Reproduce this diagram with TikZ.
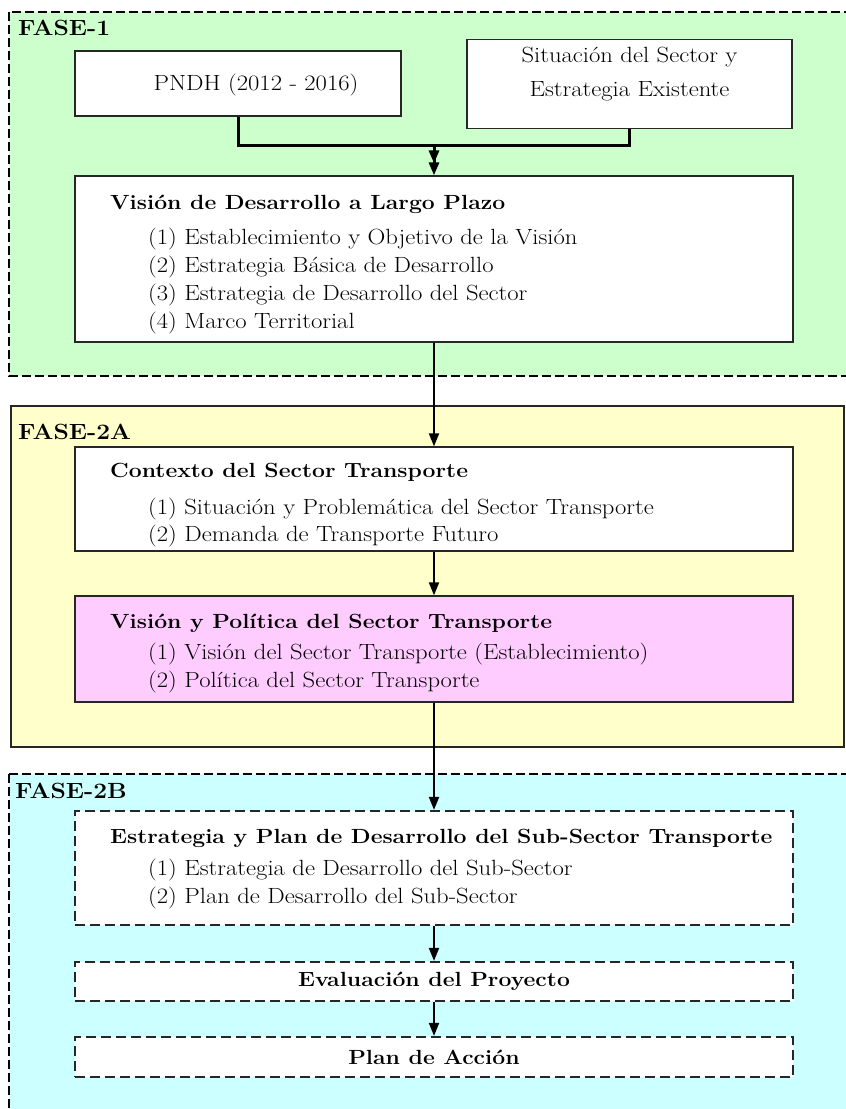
\documentclass[tikz,border=0pt]{standalone}
\usepackage{fontspec}
\setmainfont{Latin Modern Roman}[FakeStretch=1.12]
\usetikzlibrary{arrows.meta}
\definecolor{phgreen}{RGB}{204,255,204}
\definecolor{phyellow}{RGB}{255,255,204}
\definecolor{phcyan}{RGB}{204,255,255}
\definecolor{boxpink}{RGB}{255,204,255}
\begin{document}
\begin{tikzpicture}[x=1pt,y=-1pt,
  phasedash/.style={line width=1.8pt, dash pattern=on 9pt off 4pt},
  box/.style={draw=black!85, line width=1.3pt, fill=white, inner sep=0pt},
  dbox/.style={draw=black!85, line width=2.2pt, dash pattern=on 10pt off 5pt, fill=white, inner sep=0pt},
  ttl/.style={font=\fontsize{20.5}{24}\selectfont\bfseries, anchor=west, inner sep=0pt},
  itm/.style={font=\fontsize{22}{26}\selectfont, anchor=west, inner sep=0pt},
  phaselabel/.style={font=\fontsize{22}{26}\selectfont\bfseries, anchor=west, inner sep=0pt},
  conn/.style={line width=2pt, draw=black},
  thickconn/.style={line width=3pt, draw=black},
  arrtip/.style={-{Triangle[length=13pt,width=10pt]}},
]
\useasboundingbox (0,0) rectangle (846,1109);
\fill[white] (0,0) rectangle (846,1109);

% phases
\path[fill=phgreen, draw=black, phasedash] (9,12) rectangle (860,376);
\path[fill=phyellow, draw=black!85, line width=2.5pt] (11,406) rectangle (844,747);
\path[fill=phcyan, draw=black, phasedash] (9,774) rectangle (860,1130);

\node[phaselabel] (f1) at (18,28) {FASE-1};
\node[phaselabel] (f2a) at (18,432) {FASE-2A};
\node[phaselabel] (f2b) at (15,791) {FASE-2B};

% FASE-1
\node[box, minimum width=326pt, minimum height=65pt] (pndh) at (238,83.5) {};
\node[itm, anchor=center] (pndht) at (256,85) {PNDH (2012 - 2016)};
\node[box, minimum width=325pt, minimum height=89pt] (sit) at (629.5,84) {};
\node[itm, anchor=center, align=center, font=\fontsize{22}{34}\selectfont] (sitt) at (629.5,74) {Situación del Sector y\\Estrategia Existente};
\node[box, minimum width=718pt, minimum height=166pt] (vis) at (434,259) {};
\node[ttl] (vist) at (110,204) {Visión de Desarrollo a Largo Plazo};
\node[itm] (vis1) at (148,239) {(1) Establecimiento y Objetivo de la Visión};
\node[itm] (vis2) at (148,267) {(2) Estrategia Básica de Desarrollo};
\node[itm] (vis3) at (148,295) {(3) Estrategia de Desarrollo del Sector};
\node[itm] (vis4) at (148,323) {(4) Marco Territorial};

% FASE-2A
\node[box, minimum width=718pt, minimum height=104pt] (ctx) at (434,499) {};
\node[ttl] (ctxt) at (110,472) {Contexto del Sector Transporte};
\node[itm] (ctx1) at (148,509) {(1) Situación y Problemática del Sector Transporte};
\node[itm] (ctx2) at (148,536) {(2) Demanda de Transporte Futuro};

\node[box, fill=boxpink, minimum width=718pt, minimum height=106pt] (pol) at (434,649) {};
\node[ttl] (polt) at (110,623) {Visión y Política del Sector Transporte};
\node[itm] (pol1) at (148,654) {(1) Visión del Sector Transporte (Establecimiento)};
\node[itm] (pol2) at (148,682) {(2) Política del Sector Transporte};

% FASE-2B
\node[dbox, minimum width=718pt, minimum height=114pt] (est) at (434,868) {};
\node[ttl] (estt) at (110,838) {Estrategia y Plan de Desarrollo del Sub-Sector Transporte};
\node[itm] (est1) at (148,870) {(1) Estrategia de Desarrollo del Sub-Sector};
\node[itm] (est2) at (148,898) {(2) Plan de Desarrollo del Sub-Sector};

\node[dbox, minimum width=718pt, minimum height=39pt, font=\fontsize{20.5}{24}\selectfont\bfseries] (eva) at (434,981.5) {Evaluación del Proyecto};
\node[dbox, minimum width=718pt, minimum height=40pt, font=\fontsize{20.5}{24}\selectfont\bfseries] (plan) at (434,1057) {Plan de Acción};

% connectors
\coordinate (j) at (434,145);
\draw[thickconn, arrtip, shorten >=12pt] (pndh.south) |- (j) -- (vis.north);
\draw[thickconn, arrtip] (sit.south) |- (j) -- (vis.north);
\draw[conn, arrtip] (vis.south) -- (ctx.north);
\draw[conn, arrtip] (ctx.south) -- (pol.north);
\draw[conn, arrtip] (pol.south) -- (est.north);
\draw[conn, arrtip] (est.south) -- (eva.north);
\draw[conn, arrtip] (eva.south) -- (plan.north);
\end{tikzpicture}
\end{document}
